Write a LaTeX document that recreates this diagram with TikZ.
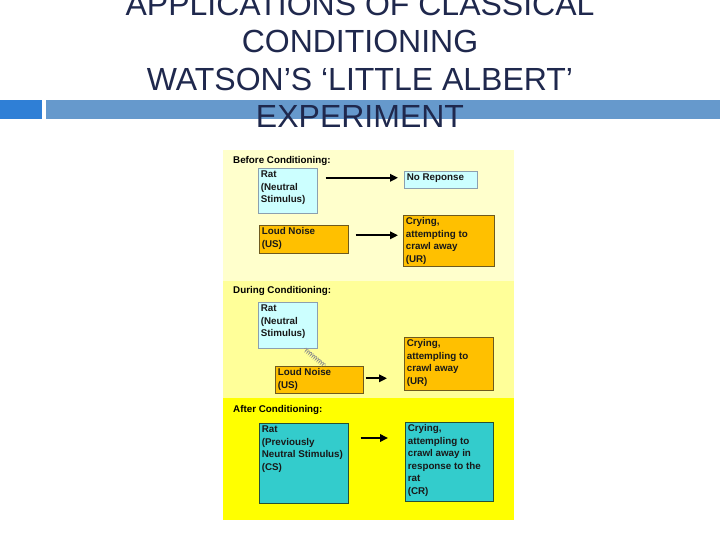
\documentclass[tikz,border=0pt]{standalone}
\usepackage{fontspec}
\setmainfont{Liberation Sans}
\usepackage{tikz}
\usetikzlibrary{arrows.meta, calc, decorations.pathmorphing}
\definecolor{titletext}{RGB}{31, 40, 77}
\definecolor{barleft}{RGB}{47, 127, 214}
\definecolor{barright}{RGB}{102, 153, 204}
\definecolor{beforebg}{RGB}{255, 255, 204}
\definecolor{duringbg}{RGB}{255, 255, 153}
\definecolor{afterbg}{RGB}{255, 255, 0}
\definecolor{stimblue}{RGB}{204, 255, 255}
\definecolor{stimblueborder}{RGB}{140, 160, 175}
\definecolor{resporange}{RGB}{255, 192, 0}
\definecolor{resporangeborder}{RGB}{110, 90, 30}
\definecolor{condteal}{RGB}{51, 204, 204}
\definecolor{condtealborder}{RGB}{40, 80, 50}
% box text: width, height, lines
\newcommand{\boxtext}[3]{\parbox[c][#2][t]{#1}{\raggedright #3}}
\tikzset{
  x=1pt, y=-1pt,
  titleline/.style={anchor=base, text=titletext, inner sep=0pt,
    font=\fontsize{32}{37.5}\selectfont},
  phaselabel/.style={anchor=base west, inner sep=0pt,
    font=\bfseries\fontsize{9.8}{12.5}\selectfont},
  baseblock/.style={
    rectangle, anchor=north west, inner sep=2.5pt, line width=0.6pt,
    font=\bfseries\fontsize{9.8}{12.5}\selectfont, text=black!90
  },
  neutralblock/.style={baseblock, draw=stimblueborder, fill=stimblue},
  responseblock/.style={baseblock, draw=resporangeborder, fill=resporange},
  condblock/.style={baseblock, draw=condtealborder, fill=condteal},
  flowline/.style={
    draw=black, -{Triangle[length=8pt, width=7.5pt]}, line width=1.9pt
  },
  pairline/.style={
    draw=black!45, line width=0.5pt, decorate,
    decoration={coil, aspect=0.5, segment length=2.2pt, amplitude=1.8pt}
  }
}
\begin{document}
\begin{tikzpicture}

  \useasboundingbox (0,0) rectangle (720,540);
  \fill[white] (0,0) rectangle (720,540);

  % Title bar
  \fill[barleft] (0,100) rectangle (42,119);
  \fill[barright] (46,100) rectangle (720,119);

  \node[titleline] (title1) at (360,15.5) {APPLICATIONS OF CLASSICAL};
  \node[titleline] (title2) at (360,53) {CONDITIONING};
  \node[titleline] (title3) at (360,90.5) {WATSON’S ‘LITTLE ALBERT’};
  \node[titleline] (title4) at (360,128) {EXPERIMENT};

  % Phase backgrounds
  \fill[beforebg] (223,150) rectangle (514,281);
  \fill[duringbg] (223,281) rectangle (514,398);
  \fill[afterbg] (223,398) rectangle (514,520);

  % Before Conditioning
  \node[phaselabel] (before) at (233,164) {Before Conditioning:};
  \node[neutralblock] (ratA) at (258,168) {\boxtext{54pt}{40pt}{Rat\\(Neutral\\Stimulus)}};
  \node[neutralblock] (noneA) at (404,171) {\boxtext{68pt}{12pt}{No Reponse}};
  \node[responseblock] (noiseA) at (259,225) {\boxtext{84pt}{23pt}{Loud Noise\\(US)}};
  \node[responseblock] (cryA) at (403,215) {\boxtext{86pt}{46pt}{Crying,\\attempting to\\crawl away\\(UR)}};

  \draw[flowline, shorten <=8pt, shorten >=6pt] ([yshift=2pt]ratA.east |- noneA.west) -- ([yshift=2pt]noneA.west);
  \draw[flowline, shorten <=7pt, shorten >=5pt] ([yshift=4pt]noiseA.east) -- ([yshift=4pt]noiseA.east -| cryA.west);

  % During Conditioning
  \node[phaselabel] (during) at (233,293) {During Conditioning:};
  \node[neutralblock] (ratB) at (258,302) {\boxtext{54pt}{41pt}{Rat\\(Neutral\\Stimulus)}};
  \node[responseblock] (noiseB) at (275,366) {\boxtext{83pt}{22pt}{Loud Noise\\(US)}};
  \node[responseblock] (cryB) at (404,337) {\boxtext{84pt}{48pt}{Crying,\\attempling to\\crawl away\\(UR)}};

  \draw[pairline] ($(ratB.south)!0.55!(ratB.south east)$) -- ([xshift=6pt]noiseB.north);
  \draw[flowline, shorten <=2pt, shorten >=17pt] ([yshift=1.5pt]noiseB.east) -- ([yshift=1.5pt]noiseB.east -| cryB.west);

  % After Conditioning
  \node[phaselabel] (after) at (233,412) {After Conditioning:};
  \node[condblock] (ratC) at (259,423) {\boxtext{84pt}{75pt}{Rat\\(Previously\\Neutral Stimulus)\\(CS)}};
  \node[condblock] (cryC) at (405,422) {\boxtext{83pt}{74pt}{Crying,\\attempling to\\crawl away in\\response to the\\rat\\(CR)}};

  \draw[flowline, shorten <=12pt, shorten >=17pt] ([yshift=-15pt]ratC.north east) -- ([yshift=-15pt]ratC.north east -| cryC.west);

\end{tikzpicture}
\end{document}
